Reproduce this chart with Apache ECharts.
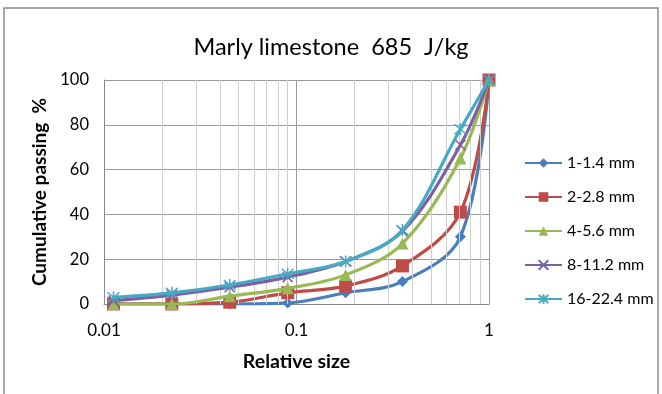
<!DOCTYPE html>
<html><head><meta charset="utf-8">
<script src="https://cdn.jsdelivr.net/npm/echarts@6/dist/echarts.min.js"></script>
<style>html,body{margin:0;padding:0;background:#fff}#c{width:662px;height:394px}</style>
</head><body><div id="c"></div>
<script>
const sizes = [0.0112, 0.0225, 0.045, 0.09, 0.18, 0.355, 0.71, 1];
const s1 = [0, 0, 0, 0.5, 5, 10, 30, 100];
const s2 = [0, 0, 0.8, 5, 8, 17, 41, 100];
const s3 = [0, 0, 3.5, 7, 13, 27, 65, 100];
const s4 = [1.5, 4, 7.5, 12, 19, 32.5, 71, 100];
const s5 = [3, 5, 8.5, 13.5, 19, 33, 78, 100];
const names = ['1-1.4 mm', '2-2.8 mm', '4-5.6 mm', '8-11.2 mm', '16-22.4 mm'];
const colors = ['#4A7EBB', '#BE4B48', '#98B954', '#7D60A0', '#46AAC5'];
const yTicks = [0, 20, 40, 60, 80, 100];
const minorX = [0.02,0.03,0.04,0.05,0.06,0.07,0.08,0.09,0.2,0.3,0.4,0.5,0.6,0.7,0.8,0.9];
const allData = [s1, s2, s3, s4, s5];
const symbols = ['diamond', 'rect', 'triangle',
  'path://M0,0L10,10M10,0L0,10',
  'path://M0,0L10,10M10,0L0,10M5,-1L5,11'];
const symSizes = [11, 13, 12, 10, 12];
const FONT = 'Lato';

const series = allData.map((d, i) => ({
  name: names[i], type: 'line', smooth: 0.35,
  data: sizes.map((x, j) => [x, d[j]]),
  symbol: symbols[i], symbolSize: symSizes[i],
  lineStyle: {width: 3.2, color: colors[i]},
  itemStyle: i >= 3 ? {color: colors[i], borderColor: colors[i], borderWidth: 1.5} : {color: colors[i]},
  z: 3 + i
}));
series.push({
  type: 'line', data: [], silent: true,
  markLine: {silent: true, symbol: 'none', label: {show: false},
    lineStyle: {color: '#cfcfcf', width: 1, type: 'solid'},
    data: minorX.map(v => ({xAxis: v}))},
  z: 1
});

const chart = echarts.init(document.getElementById('c'));
chart.setOption({
  animation: false,
  textStyle: {fontFamily: FONT},
  title: {text: 'Marly limestone  685  J/kg', left: 'center', top: 30,
    textStyle: {fontFamily: FONT, fontSize: 23.5, fontWeight: 'normal', color: '#000'}},
  graphic: [{type: 'rect', shape: {x: 4, y: 8, width: 654, height: 400},
    style: {fill: 'none', stroke: '#8c8c8c', lineWidth: 1.5}, silent: true}],
  legend: {orient: 'vertical', left: 519, top: 150, itemGap: 18, itemWidth: 37, itemHeight: 12,
    data: names,
    textStyle: {fontFamily: FONT, fontSize: 16, color: '#000'}},
  grid: {left: 104, right: 173, top: 80, bottom: 90},
  xAxis: {type: 'log', logBase: 10, min: 0.01, max: 1,
    name: 'Relative size', nameLocation: 'middle', nameGap: 48,
    nameTextStyle: {fontFamily: FONT, fontSize: 19.5, fontWeight: 'bold', color: '#000'},
    axisLine: {lineStyle: {color: '#888', width: 1}},
    axisTick: {show: false},
    axisLabel: {fontFamily: FONT, fontSize: 17, color: '#000', margin: 18},
    splitLine: {show: true, lineStyle: {color: '#999', width: 1}}},
  yAxis: {type: 'value', min: 0, max: 100, interval: 20,
    name: 'Cumulative passing  %', nameLocation: 'middle', nameGap: 50, nameRotate: 90,
    nameTextStyle: {fontFamily: FONT, fontSize: 19, fontWeight: 'bold', color: '#000'},
    axisLine: {show: true, lineStyle: {color: '#888', width: 1}},
    axisTick: {show: false},
    axisLabel: {fontFamily: FONT, fontSize: 16.5, color: '#000', margin: 15,
      formatter: v => yTicks.includes(v) ? String(v) : ''},
    splitLine: {show: true, lineStyle: {color: '#999', width: 1}}},
  series: series
});
</script></body></html>
